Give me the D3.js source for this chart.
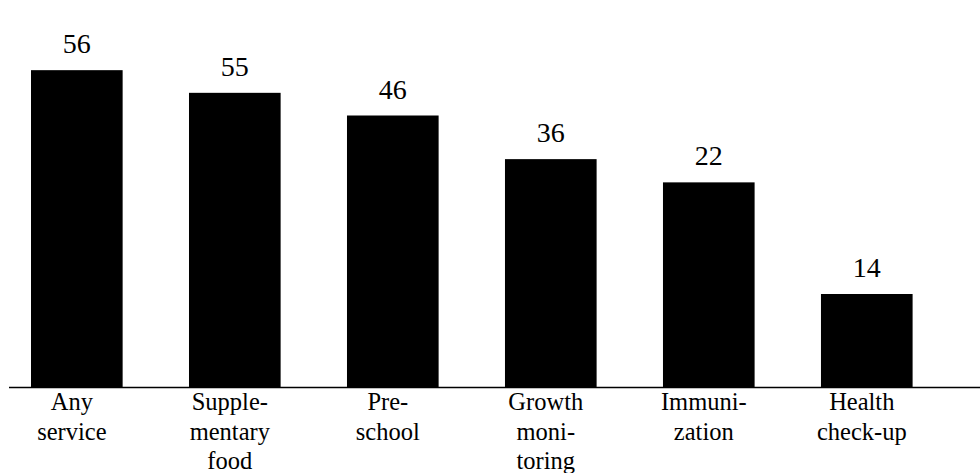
<!DOCTYPE html>
<html>
<head>
<meta charset="utf-8">
<script src="https://cdn.jsdelivr.net/npm/d3@7/dist/d3.min.js"></script>
<style>
  html, body { margin: 0; padding: 0; background: #fff; }
  svg { display: block; }
  text { font-family: "Liberation Serif", "DejaVu Serif", serif; fill: #000; }
</style>
</head>
<body>
<svg id="chart" width="980" height="473"></svg>
<script>
// Data
const categories = ["Any service", "Supple- mentary food", "Pre- school", "Growth moni- toring", "Immuni- zation", "Health check-up"];
const categoryLines = [["Any", "service"], ["Supple-", "mentary", "food"], ["Pre-", "school"], ["Growth", "moni-", "toring"], ["Immuni-", "zation"], ["Health", "check-up"]];
const valueLabels = [56, 55, 46, 36, 22, 14];
// bar heights as drawn in the original picture (in value units)
const barLevels = [56, 52, 48, 40.3, 36.2, 16.5];

const svg = d3.select("#chart");
const baseline = 387.5;

const x = d3.scaleBand()
  .domain(categories)
  .range([31, 912.6])
  .paddingInner(0.42)
  .paddingOuter(0);

const y = d3.scaleLinear()
  .domain([0, 60])
  .range([baseline, 47.5]);

// bars
svg.append("g").selectAll("rect")
  .data(categories)
  .join("rect")
  .attr("x", d => x(d))
  .attr("width", x.bandwidth())
  .attr("y", (d, i) => y(barLevels[i]))
  .attr("height", (d, i) => baseline - y(barLevels[i]))
  .attr("fill", "#000");

// baseline axis
const axis = d3.axisBottom(x).tickSize(0).tickFormat("");
const ag = svg.append("g").attr("transform", `translate(0,${baseline})`).call(axis);
ag.select(".domain").remove();
svg.append("line")
  .attr("x1", 9).attr("x2", 980)
  .attr("y1", baseline).attr("y2", baseline)
  .attr("stroke", "#000").attr("stroke-width", 1.5);

// value labels
svg.append("g").selectAll("text")
  .data(categories)
  .join("text")
  .attr("x", d => x(d) + x.bandwidth() / 2)
  .attr("y", (d, i) => y(barLevels[i]) - 17)
  .attr("text-anchor", "middle")
  .attr("font-size", 28)
  .text((d, i) => valueLabels[i]);

// category labels
const cg = svg.append("g").selectAll("text")
  .data(categories)
  .join("text")
  .attr("text-anchor", "middle")
  .attr("font-size", 24.5)
  .attr("transform", d => `translate(${x(d) + x.bandwidth() / 2 - 5},0)`);
cg.selectAll("tspan")
  .data((d, i) => categoryLines[i])
  .join("tspan")
  .attr("x", 0)
  .attr("y", (d, j) => 410 + j * 29.5)
  .text(d => d);
</script>
</body>
</html>
